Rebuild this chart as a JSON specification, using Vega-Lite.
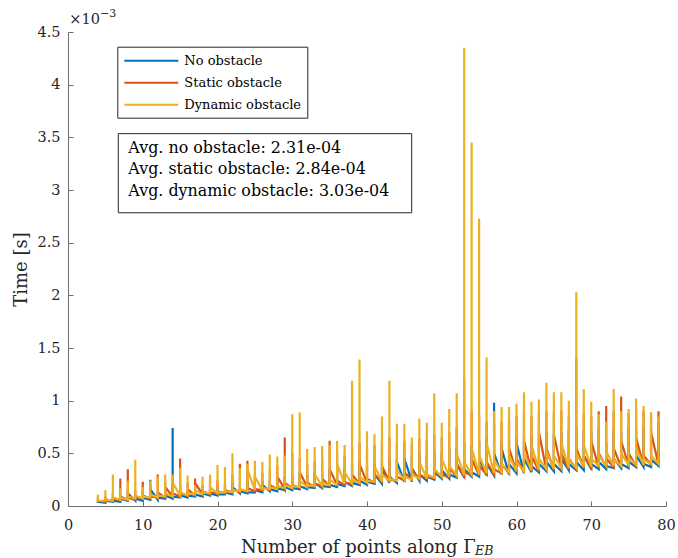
{
"$schema":"https://vega.github.io/schema/vega-lite/v6.json",
"width":598,"height":474,
"autosize":{"type":"none"},
"padding":{"left":68,"top":32,"right":12,"bottom":52},
"background":"white",
"datasets":{
"no":[
{"x":4,"t":0.03},{"x":4,"t":0.05},{"x":4,"t":0.04},
{"x":5,"t":0.03},{"x":5,"t":0.06},{"x":5,"t":0.05},
{"x":6,"t":0.04},{"x":6,"t":0.08},{"x":6,"t":0.05},
{"x":7,"t":0.04},{"x":7,"t":0.10},{"x":7,"t":0.07},
{"x":8,"t":0.05},{"x":8,"t":0.12},{"x":8,"t":0.12},
{"x":9,"t":0.05},{"x":9,"t":0.10},{"x":9,"t":0.07},
{"x":10,"t":0.05},{"x":10,"t":0.14},{"x":10,"t":0.08},
{"x":11,"t":0.06},{"x":11,"t":0.25},{"x":11,"t":0.16},
{"x":12,"t":0.06},{"x":12,"t":0.12},{"x":12,"t":0.08},
{"x":13,"t":0.07},{"x":13,"t":0.15},{"x":13,"t":0.10},
{"x":14,"t":0.07},{"x":14,"t":0.74},{"x":14,"t":0.09},
{"x":15,"t":0.08},{"x":15,"t":0.20},{"x":15,"t":0.10},
{"x":16,"t":0.08},{"x":16,"t":0.14},{"x":16,"t":0.10},
{"x":17,"t":0.09},{"x":17,"t":0.18},{"x":17,"t":0.11},
{"x":18,"t":0.09},{"x":18,"t":0.15},{"x":18,"t":0.12},
{"x":19,"t":0.10},{"x":19,"t":0.16},{"x":19,"t":0.12},
{"x":20,"t":0.10},{"x":20,"t":0.20},{"x":20,"t":0.11},
{"x":21,"t":0.11},{"x":21,"t":0.18},{"x":21,"t":0.13},
{"x":22,"t":0.11},{"x":22,"t":0.22},{"x":22,"t":0.18},
{"x":23,"t":0.12},{"x":23,"t":0.20},{"x":23,"t":0.14},
{"x":24,"t":0.12},{"x":24,"t":0.24},{"x":24,"t":0.13},
{"x":25,"t":0.13},{"x":25,"t":0.22},{"x":25,"t":0.15},
{"x":26,"t":0.13},{"x":26,"t":0.24},{"x":26,"t":0.20},
{"x":27,"t":0.14},{"x":27,"t":0.25},{"x":27,"t":0.16},
{"x":28,"t":0.14},{"x":28,"t":0.26},{"x":28,"t":0.17},
{"x":29,"t":0.15},{"x":29,"t":0.28},{"x":29,"t":0.18},
{"x":30,"t":0.15},{"x":30,"t":0.30},{"x":30,"t":0.17},
{"x":31,"t":0.16},{"x":31,"t":0.32},{"x":31,"t":0.19},
{"x":32,"t":0.16},{"x":32,"t":0.30},{"x":32,"t":0.18},
{"x":33,"t":0.17},{"x":33,"t":0.32},{"x":33,"t":0.22},
{"x":34,"t":0.17},{"x":34,"t":0.30},{"x":34,"t":0.19},
{"x":35,"t":0.18},{"x":35,"t":0.35},{"x":35,"t":0.20},
{"x":36,"t":0.18},{"x":36,"t":0.34},{"x":36,"t":0.21},
{"x":37,"t":0.19},{"x":37,"t":0.35},{"x":37,"t":0.23},
{"x":38,"t":0.19},{"x":38,"t":0.40},{"x":38,"t":0.22},
{"x":39,"t":0.20},{"x":39,"t":0.42},{"x":39,"t":0.24},
{"x":40,"t":0.20},{"x":40,"t":0.38},{"x":40,"t":0.23},
{"x":41,"t":0.21},{"x":41,"t":0.40},{"x":41,"t":0.30},
{"x":42,"t":0.21},{"x":42,"t":0.42},{"x":42,"t":0.35},
{"x":43,"t":0.22},{"x":43,"t":0.45},{"x":43,"t":0.28},
{"x":44,"t":0.22},{"x":44,"t":0.44},{"x":44,"t":0.42},
{"x":45,"t":0.23},{"x":45,"t":0.46},{"x":45,"t":0.45},
{"x":46,"t":0.23},{"x":46,"t":0.48},{"x":46,"t":0.36},
{"x":47,"t":0.24},{"x":47,"t":0.50},{"x":47,"t":0.30},
{"x":48,"t":0.24},{"x":48,"t":0.48},{"x":48,"t":0.28},
{"x":49,"t":0.25},{"x":49,"t":0.52},{"x":49,"t":0.32},
{"x":50,"t":0.26},{"x":50,"t":0.50},{"x":50,"t":0.34},
{"x":51,"t":0.26},{"x":51,"t":0.55},{"x":51,"t":0.30},
{"x":52,"t":0.27},{"x":52,"t":0.56},{"x":52,"t":0.40},
{"x":53,"t":0.27},{"x":53,"t":0.60},{"x":53,"t":0.35},
{"x":54,"t":0.28},{"x":54,"t":0.58},{"x":54,"t":0.32},
{"x":55,"t":0.28},{"x":55,"t":0.62},{"x":55,"t":0.45},
{"x":56,"t":0.29},{"x":56,"t":0.65},{"x":56,"t":0.40},
{"x":57,"t":0.29},{"x":57,"t":0.98},{"x":57,"t":0.50},
{"x":58,"t":0.30},{"x":58,"t":0.60},{"x":58,"t":0.55},
{"x":59,"t":0.30},{"x":59,"t":0.62},{"x":59,"t":0.40},
{"x":60,"t":0.31},{"x":60,"t":0.64},{"x":60,"t":0.60},
{"x":61,"t":0.31},{"x":61,"t":0.66},{"x":61,"t":0.45},
{"x":62,"t":0.32},{"x":62,"t":0.65},{"x":62,"t":0.38},
{"x":63,"t":0.32},{"x":63,"t":0.68},{"x":63,"t":0.40},
{"x":64,"t":0.33},{"x":64,"t":0.70},{"x":64,"t":0.42},
{"x":65,"t":0.33},{"x":65,"t":0.68},{"x":65,"t":0.40},
{"x":66,"t":0.33},{"x":66,"t":0.70},{"x":66,"t":0.45},
{"x":67,"t":0.34},{"x":67,"t":0.72},{"x":67,"t":0.40},
{"x":68,"t":0.34},{"x":68,"t":0.75},{"x":68,"t":0.42},
{"x":69,"t":0.34},{"x":69,"t":0.72},{"x":69,"t":0.48},
{"x":70,"t":0.35},{"x":70,"t":0.70},{"x":70,"t":0.40},
{"x":71,"t":0.35},{"x":71,"t":0.74},{"x":71,"t":0.42},
{"x":72,"t":0.35},{"x":72,"t":0.60},{"x":72,"t":0.38},
{"x":73,"t":0.36},{"x":73,"t":0.72},{"x":73,"t":0.45},
{"x":74,"t":0.36},{"x":74,"t":0.70},{"x":74,"t":0.40},
{"x":75,"t":0.36},{"x":75,"t":0.74},{"x":75,"t":0.42},
{"x":76,"t":0.37},{"x":76,"t":0.72},{"x":76,"t":0.48},
{"x":77,"t":0.37},{"x":77,"t":0.75},{"x":77,"t":0.40},
{"x":78,"t":0.37},{"x":78,"t":0.74},{"x":78,"t":0.44},
{"x":79,"t":0.38},{"x":79,"t":0.80},{"x":79,"t":0.45}
],
"st":[
{"x":4,"t":0.04},{"x":4,"t":0.08},{"x":4,"t":0.05},
{"x":5,"t":0.04},{"x":5,"t":0.09},{"x":5,"t":0.06},
{"x":6,"t":0.05},{"x":6,"t":0.12},{"x":6,"t":0.07},
{"x":7,"t":0.05},{"x":7,"t":0.26},{"x":7,"t":0.09},
{"x":8,"t":0.06},{"x":8,"t":0.35},{"x":8,"t":0.08},
{"x":9,"t":0.06},{"x":9,"t":0.15},{"x":9,"t":0.09},
{"x":10,"t":0.07},{"x":10,"t":0.23},{"x":10,"t":0.10},
{"x":11,"t":0.07},{"x":11,"t":0.20},{"x":11,"t":0.09},
{"x":12,"t":0.08},{"x":12,"t":0.30},{"x":12,"t":0.13},
{"x":13,"t":0.08},{"x":13,"t":0.22},{"x":13,"t":0.18},
{"x":14,"t":0.09},{"x":14,"t":0.20},{"x":14,"t":0.12},
{"x":15,"t":0.09},{"x":15,"t":0.45},{"x":15,"t":0.11},
{"x":16,"t":0.10},{"x":16,"t":0.22},{"x":16,"t":0.16},
{"x":17,"t":0.10},{"x":17,"t":0.26},{"x":17,"t":0.22},
{"x":18,"t":0.11},{"x":18,"t":0.20},{"x":18,"t":0.14},
{"x":19,"t":0.11},{"x":19,"t":0.24},{"x":19,"t":0.13},
{"x":20,"t":0.12},{"x":20,"t":0.25},{"x":20,"t":0.14},
{"x":21,"t":0.12},{"x":21,"t":0.22},{"x":21,"t":0.15},
{"x":22,"t":0.13},{"x":22,"t":0.30},{"x":22,"t":0.16},
{"x":23,"t":0.13},{"x":23,"t":0.40},{"x":23,"t":0.15},
{"x":24,"t":0.14},{"x":24,"t":0.43},{"x":24,"t":0.17},
{"x":25,"t":0.14},{"x":25,"t":0.30},{"x":25,"t":0.16},
{"x":26,"t":0.15},{"x":26,"t":0.32},{"x":26,"t":0.18},
{"x":27,"t":0.15},{"x":27,"t":0.35},{"x":27,"t":0.20},
{"x":28,"t":0.16},{"x":28,"t":0.38},{"x":28,"t":0.28},
{"x":29,"t":0.16},{"x":29,"t":0.65},{"x":29,"t":0.22},
{"x":30,"t":0.17},{"x":30,"t":0.50},{"x":30,"t":0.20},
{"x":31,"t":0.17},{"x":31,"t":0.45},{"x":31,"t":0.32},
{"x":32,"t":0.18},{"x":32,"t":0.40},{"x":32,"t":0.22},
{"x":33,"t":0.18},{"x":33,"t":0.42},{"x":33,"t":0.21},
{"x":34,"t":0.19},{"x":34,"t":0.45},{"x":34,"t":0.26},
{"x":35,"t":0.19},{"x":35,"t":0.62},{"x":35,"t":0.35},
{"x":36,"t":0.20},{"x":36,"t":0.50},{"x":36,"t":0.24},
{"x":37,"t":0.20},{"x":37,"t":0.48},{"x":37,"t":0.22},
{"x":38,"t":0.21},{"x":38,"t":0.55},{"x":38,"t":0.30},
{"x":39,"t":0.21},{"x":39,"t":0.60},{"x":39,"t":0.40},
{"x":40,"t":0.22},{"x":40,"t":0.55},{"x":40,"t":0.26},
{"x":41,"t":0.22},{"x":41,"t":0.58},{"x":41,"t":0.30},
{"x":42,"t":0.23},{"x":42,"t":0.60},{"x":42,"t":0.38},
{"x":43,"t":0.23},{"x":43,"t":0.65},{"x":43,"t":0.25},
{"x":44,"t":0.24},{"x":44,"t":0.60},{"x":44,"t":0.28},
{"x":45,"t":0.24},{"x":45,"t":0.62},{"x":45,"t":0.32},
{"x":46,"t":0.25},{"x":46,"t":0.60},{"x":46,"t":0.35},
{"x":47,"t":0.25},{"x":47,"t":0.64},{"x":47,"t":0.30},
{"x":48,"t":0.26},{"x":48,"t":0.62},{"x":48,"t":0.28},
{"x":49,"t":0.26},{"x":49,"t":0.68},{"x":49,"t":0.34},
{"x":50,"t":0.27},{"x":50,"t":0.65},{"x":50,"t":0.30},
{"x":51,"t":0.27},{"x":51,"t":0.70},{"x":51,"t":0.36},
{"x":52,"t":0.28},{"x":52,"t":0.75},{"x":52,"t":0.40},
{"x":53,"t":0.28},{"x":53,"t":1.20},{"x":53,"t":0.32},
{"x":54,"t":0.29},{"x":54,"t":0.90},{"x":54,"t":0.45},
{"x":55,"t":0.29},{"x":55,"t":0.85},{"x":55,"t":0.38},
{"x":56,"t":0.30},{"x":56,"t":0.80},{"x":56,"t":0.42},
{"x":57,"t":0.30},{"x":57,"t":0.78},{"x":57,"t":0.35},
{"x":58,"t":0.31},{"x":58,"t":0.80},{"x":58,"t":0.40},
{"x":59,"t":0.31},{"x":59,"t":0.82},{"x":59,"t":0.55},
{"x":60,"t":0.32},{"x":60,"t":0.85},{"x":60,"t":0.45},
{"x":61,"t":0.32},{"x":61,"t":0.88},{"x":61,"t":0.62},
{"x":62,"t":0.33},{"x":62,"t":0.85},{"x":62,"t":0.48},
{"x":63,"t":0.33},{"x":63,"t":0.88},{"x":63,"t":0.70},
{"x":64,"t":0.34},{"x":64,"t":0.90},{"x":64,"t":0.55},
{"x":65,"t":0.34},{"x":65,"t":0.88},{"x":65,"t":0.68},
{"x":66,"t":0.35},{"x":66,"t":0.90},{"x":66,"t":0.50},
{"x":67,"t":0.35},{"x":67,"t":0.85},{"x":67,"t":0.45},
{"x":68,"t":0.35},{"x":68,"t":1.40},{"x":68,"t":0.55},
{"x":69,"t":0.36},{"x":69,"t":0.88},{"x":69,"t":0.48},
{"x":70,"t":0.36},{"x":70,"t":0.85},{"x":70,"t":0.62},
{"x":71,"t":0.36},{"x":71,"t":0.90},{"x":71,"t":0.50},
{"x":72,"t":0.37},{"x":72,"t":0.95},{"x":72,"t":0.45},
{"x":73,"t":0.37},{"x":73,"t":0.90},{"x":73,"t":0.55},
{"x":74,"t":0.37},{"x":74,"t":1.04},{"x":74,"t":0.62},
{"x":75,"t":0.38},{"x":75,"t":0.88},{"x":75,"t":0.50},
{"x":76,"t":0.38},{"x":76,"t":0.92},{"x":76,"t":0.65},
{"x":77,"t":0.38},{"x":77,"t":0.90},{"x":77,"t":0.48},
{"x":78,"t":0.39},{"x":78,"t":0.86},{"x":78,"t":0.70},
{"x":79,"t":0.39},{"x":79,"t":0.90},{"x":79,"t":0.50}
],
"dy":[
{"x":4,"t":0.04},{"x":4,"t":0.11},{"x":4,"t":0.05},
{"x":5,"t":0.05},{"x":5,"t":0.15},{"x":5,"t":0.06},
{"x":6,"t":0.05},{"x":6,"t":0.30},{"x":6,"t":0.08},
{"x":7,"t":0.06},{"x":7,"t":0.17},{"x":7,"t":0.08},
{"x":8,"t":0.06},{"x":8,"t":0.24},{"x":8,"t":0.09},
{"x":9,"t":0.07},{"x":9,"t":0.44},{"x":9,"t":0.10},
{"x":10,"t":0.07},{"x":10,"t":0.18},{"x":10,"t":0.09},
{"x":11,"t":0.08},{"x":11,"t":0.24},{"x":11,"t":0.11},
{"x":12,"t":0.08},{"x":12,"t":0.28},{"x":12,"t":0.10},
{"x":13,"t":0.09},{"x":13,"t":0.30},{"x":13,"t":0.12},
{"x":14,"t":0.09},{"x":14,"t":0.30},{"x":14,"t":0.22},
{"x":15,"t":0.10},{"x":15,"t":0.36},{"x":15,"t":0.13},
{"x":16,"t":0.10},{"x":16,"t":0.29},{"x":16,"t":0.12},
{"x":17,"t":0.11},{"x":17,"t":0.20},{"x":17,"t":0.15},
{"x":18,"t":0.11},{"x":18,"t":0.28},{"x":18,"t":0.13},
{"x":19,"t":0.12},{"x":19,"t":0.30},{"x":19,"t":0.18},
{"x":20,"t":0.12},{"x":20,"t":0.39},{"x":20,"t":0.13},
{"x":21,"t":0.13},{"x":21,"t":0.37},{"x":21,"t":0.14},
{"x":22,"t":0.13},{"x":22,"t":0.50},{"x":22,"t":0.15},
{"x":23,"t":0.14},{"x":23,"t":0.36},{"x":23,"t":0.16},
{"x":24,"t":0.14},{"x":24,"t":0.40},{"x":24,"t":0.35},
{"x":25,"t":0.15},{"x":25,"t":0.43},{"x":25,"t":0.28},
{"x":26,"t":0.15},{"x":26,"t":0.42},{"x":26,"t":0.17},
{"x":27,"t":0.16},{"x":27,"t":0.49},{"x":27,"t":0.18},
{"x":28,"t":0.16},{"x":28,"t":0.47},{"x":28,"t":0.19},
{"x":29,"t":0.17},{"x":29,"t":0.48},{"x":29,"t":0.20},
{"x":30,"t":0.17},{"x":30,"t":0.87},{"x":30,"t":0.19},
{"x":31,"t":0.18},{"x":31,"t":0.89},{"x":31,"t":0.24},
{"x":32,"t":0.18},{"x":32,"t":0.54},{"x":32,"t":0.20},
{"x":33,"t":0.19},{"x":33,"t":0.56},{"x":33,"t":0.30},
{"x":34,"t":0.19},{"x":34,"t":0.57},{"x":34,"t":0.22},
{"x":35,"t":0.20},{"x":35,"t":0.58},{"x":35,"t":0.25},
{"x":36,"t":0.20},{"x":36,"t":0.62},{"x":36,"t":0.40},
{"x":37,"t":0.21},{"x":37,"t":0.58},{"x":37,"t":0.32},
{"x":38,"t":0.21},{"x":38,"t":1.19},{"x":38,"t":0.25},
{"x":39,"t":0.22},{"x":39,"t":1.39},{"x":39,"t":0.28},
{"x":40,"t":0.22},{"x":40,"t":0.71},{"x":40,"t":0.24},
{"x":41,"t":0.23},{"x":41,"t":0.68},{"x":41,"t":0.38},
{"x":42,"t":0.23},{"x":42,"t":0.85},{"x":42,"t":0.30},
{"x":43,"t":0.24},{"x":43,"t":1.19},{"x":43,"t":0.26},
{"x":44,"t":0.24},{"x":44,"t":0.78},{"x":44,"t":0.34},
{"x":45,"t":0.25},{"x":45,"t":0.78},{"x":45,"t":0.28},
{"x":46,"t":0.25},{"x":46,"t":0.65},{"x":46,"t":0.30},
{"x":47,"t":0.26},{"x":47,"t":0.83},{"x":47,"t":0.42},
{"x":48,"t":0.26},{"x":48,"t":0.79},{"x":48,"t":0.30},
{"x":49,"t":0.27},{"x":49,"t":1.07},{"x":49,"t":0.35},
{"x":50,"t":0.28},{"x":50,"t":0.79},{"x":50,"t":0.45},
{"x":51,"t":0.28},{"x":51,"t":0.92},{"x":51,"t":0.38},
{"x":52,"t":0.29},{"x":52,"t":1.07},{"x":52,"t":0.50},
{"x":53,"t":0.29},{"x":53,"t":4.35},{"x":53,"t":0.42},
{"x":54,"t":0.30},{"x":54,"t":3.45},{"x":54,"t":0.55},
{"x":55,"t":0.30},{"x":55,"t":2.73},{"x":55,"t":0.48},
{"x":56,"t":0.31},{"x":56,"t":1.41},{"x":56,"t":0.60},
{"x":57,"t":0.31},{"x":57,"t":0.90},{"x":57,"t":0.44},
{"x":58,"t":0.32},{"x":58,"t":0.94},{"x":58,"t":0.40},
{"x":59,"t":0.32},{"x":59,"t":0.94},{"x":59,"t":0.48},
{"x":60,"t":0.33},{"x":60,"t":0.97},{"x":60,"t":0.42},
{"x":61,"t":0.33},{"x":61,"t":1.08},{"x":61,"t":0.50},
{"x":62,"t":0.34},{"x":62,"t":0.99},{"x":62,"t":0.58},
{"x":63,"t":0.34},{"x":63,"t":1.01},{"x":63,"t":0.45},
{"x":64,"t":0.35},{"x":64,"t":1.17},{"x":64,"t":0.52},
{"x":65,"t":0.35},{"x":65,"t":1.08},{"x":65,"t":0.48},
{"x":66,"t":0.36},{"x":66,"t":1.08},{"x":66,"t":0.60},
{"x":67,"t":0.36},{"x":67,"t":1.00},{"x":67,"t":0.44},
{"x":68,"t":0.36},{"x":68,"t":2.03},{"x":68,"t":0.50},
{"x":69,"t":0.37},{"x":69,"t":1.11},{"x":69,"t":0.58},
{"x":70,"t":0.37},{"x":70,"t":0.99},{"x":70,"t":0.45},
{"x":71,"t":0.38},{"x":71,"t":0.87},{"x":71,"t":0.48},
{"x":72,"t":0.38},{"x":72,"t":0.80},{"x":72,"t":0.52},
{"x":73,"t":0.38},{"x":73,"t":1.11},{"x":73,"t":0.44},
{"x":74,"t":0.38},{"x":74,"t":0.90},{"x":74,"t":0.50},
{"x":75,"t":0.39},{"x":75,"t":0.92},{"x":75,"t":0.46},
{"x":76,"t":0.39},{"x":76,"t":1.02},{"x":76,"t":0.55},
{"x":77,"t":0.39},{"x":77,"t":0.95},{"x":77,"t":0.44},
{"x":78,"t":0.40},{"x":78,"t":0.89},{"x":78,"t":0.48},
{"x":79,"t":0.40},{"x":79,"t":0.85},{"x":79,"t":0.45}
]
},
"layer":[
{"data":{"name":"no"},
 "mark":{"type":"line","strokeWidth":2.2},
 "encoding":{
  "x":{"field":"x","type":"quantitative","scale":{"domain":[0,80],"nice":false,"zero":false},
       "axis":{"values":[0,10,20,30,40,50,60,70,80],"title":"Number of points along Γ","titleAlign":"left","titleX":172.5,"titleY":46.2,"titleBaseline":"alphabetic","labelPadding":28.5,"labelBaseline":"alphabetic"}},
  "y":{"field":"t","type":"quantitative","scale":{"domain":[0,4.5],"nice":false},
       "axis":{"values":[0,0.5,1,1.5,2,2.5,3,3.5,4,4.5],"format":"~g","title":"Time [s]","titleX":-41.3,"titleY":237,"titleBaseline":"alphabetic","titleAngle":-90,"titleAlign":"center","labelPadding":13}},
  "color":{"datum":"No obstacle","type":"nominal","scale":{"domain":["No obstacle","Static obstacle","Dynamic obstacle"],"range":["#0072BD","#D95319","#EDB120"]},"legend":{"title":null,"symbolType":"M-1,0H6.714","symbolSize":196,"labelOffset":45,"rowPadding":7}},
  "order":{"value":null}}},
{"data":{"name":"st"},
 "mark":{"type":"line","strokeWidth":2.2},
 "encoding":{
  "x":{"field":"x","type":"quantitative"},
  "y":{"field":"t","type":"quantitative"},
  "color":{"datum":"Static obstacle","type":"nominal"},
  "order":{"value":null}}},
{"data":{"name":"dy"},
 "mark":{"type":"line","strokeWidth":2.2},
 "encoding":{
  "x":{"field":"x","type":"quantitative"},
  "y":{"field":"t","type":"quantitative"},
  "color":{"datum":"Dynamic obstacle","type":"nominal"},
  "order":{"value":null}}},
{"data":{"values":[{}]},
 "mark":{"type":"rect","fill":"white","stroke":"#262626","strokeWidth":1},
 "encoding":{"x":{"datum":6.73},"x2":{"datum":45.98},"y":{"datum":3.535},"y2":{"datum":2.784}}},
{"data":{"values":[{}]},
 "mark":{"type":"text","align":"left","baseline":"alphabetic","font":"DejaVu Serif","fontSize":15.9,"lineHeight":21.7,"color":"#000000"},
 "encoding":{"x":{"datum":8.07},"y":{"datum":3.354},"text":{"value":["Avg. no obstacle: 2.31e-04","Avg. static obstacle: 2.84e-04","Avg. dynamic obstacle: 3.03e-04"]}}},
{"data":{"values":[{}]},
 "mark":{"type":"text","align":"left","baseline":"alphabetic","font":"DejaVu Serif","fontSize":14.5,"color":"#262626"},
 "encoding":{"x":{"datum":0.17},"y":{"datum":4.573},"text":{"value":"×10"}}},
{"data":{"values":[{}]},
 "mark":{"type":"text","align":"left","baseline":"alphabetic","font":"DejaVu Serif","fontSize":11,"color":"#262626"},
 "encoding":{"x":{"datum":4.28},"y":{"datum":4.642},"text":{"value":"−3"}}},
{"data":{"values":[{}]},
 "mark":{"type":"text","align":"left","baseline":"alphabetic","font":"DejaVu Serif","fontSize":12.5,"fontStyle":"italic","color":"#262626"},
 "encoding":{"x":{"datum":54.45},"y":{"datum":-0.465},"text":{"value":"EB"}}}
],
"config":{
 "view":{"stroke":null},
 "axis":{"domainColor":"#6e6e6e","tickColor":"#6e6e6e","domainWidth":1,"tickWidth":1,"tickSize":-5,"grid":false,
  "labelColor":"#262626","titleColor":"#262626","labelFont":"DejaVu Serif","titleFont":"DejaVu Serif","labelFontSize":14.5,"titleFontSize":18,"titleFontWeight":"normal","labelFlush":false,"labelOverlap":false},
 "legend":{"orient":"none","legendX":49.3,"legendY":14.7,"direction":"vertical","strokeColor":"#262626","fillColor":"white","padding":6,
  "labelFont":"DejaVu Serif","labelFontSize":13,"labelColor":"#000000","symbolStrokeWidth":2}
}
}
